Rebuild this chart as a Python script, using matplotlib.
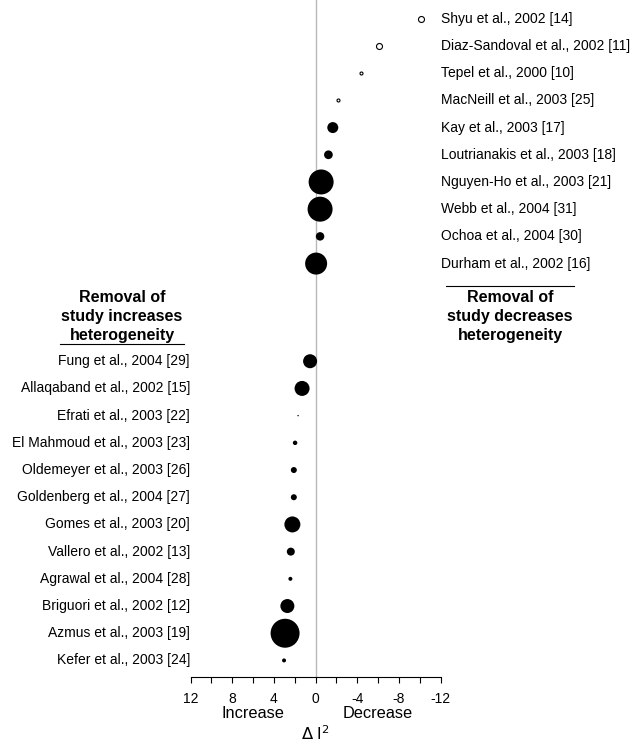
import numpy as np
import matplotlib
matplotlib.use('Agg')
import matplotlib.pyplot as plt

plt.rcParams['font.family'] = ['Liberation Sans', 'DejaVu Sans']

# studies whose removal decreases heterogeneity (labels on the right)
top_names = ['Shyu et al., 2002 [14]', 'Diaz-Sandoval et al., 2002 [11]',
             'Tepel et al., 2000 [10]', 'MacNeill et al., 2003 [25]',
             'Kay et al., 2003 [17]', 'Loutrianakis et al., 2003 [18]',
             'Nguyen-Ho et al., 2003 [21]', 'Webb et al., 2004 [31]',
             'Ochoa et al., 2004 [30]', 'Durham et al., 2002 [16]']
top_delta = [-10.1, -6.1, -4.35, -2.14, -1.66, -1.24, -0.54, -0.44, -0.44, -0.06]
top_weight = [3.6, 3.6, 0.9, 0.9, 12.1, 7.6, 62.5, 62.5, 7.2, 48.4]
top_filled = [False, False, False, False, True, True, True, True, True, True]

# studies whose removal increases heterogeneity (labels on the left)
bot_names = ['Fung et al., 2004 [29]', 'Allaqaband et al., 2002 [15]',
             'Efrati et al., 2003 [22]', 'El Mahmoud et al., 2003 [23]',
             'Oldemeyer et al., 2003 [26]', 'Goldenberg et al., 2004 [27]',
             'Gomes et al., 2003 [20]', 'Vallero et al., 2002 [13]',
             'Agrawal et al., 2004 [28]', 'Briguori et al., 2002 [12]',
             'Azmus et al., 2003 [19]', 'Kefer et al., 2003 [24]']
bot_delta = [0.52, 1.29, 1.67, 1.96, 2.08, 2.08, 2.22, 2.37, 2.41, 2.7, 2.92, 3.02]
bot_weight = [19.6, 22.5, 0.2, 2.0, 3.6, 3.6, 25.6, 6.4, 1.6, 19.6, 84.0, 1.6]

major_ticks = [12, 8, 4, 0, -4, -8, -12]
tick_labels = ['12', '8', '4', '0', '-4', '-8', '-12']

W, H = 642, 742
fig = plt.figure(figsize=(W / 100, H / 100), dpi=100)
ax = fig.add_axes([190.5 / W, 1 - 677.3 / H, 250 / W, 677.3 / H])

gap = 3.59
y_top = np.arange(len(top_names))
y_bot = np.arange(len(bot_names)) + len(top_names) - 1 + gap

scale = 5.18
ax.axvline(0, color='#b8b8b8', lw=1, zorder=1)
for x, y, w, f in zip(top_delta, y_top, top_weight, top_filled):
    if f:
        ax.scatter(x, y, s=w * scale, c='black', edgecolors='none', zorder=3)
    else:
        ax.scatter(x, y, s=w * scale, facecolors='white', edgecolors='black',
                   linewidths=0.8, zorder=3)
ax.scatter(bot_delta, y_bot, s=np.array(bot_weight) * scale, c='black',
           edgecolors='none', zorder=3)

for name, y in zip(top_names, y_top):
    ax.text(-12.05, y, name, ha='left', va='center', fontsize=10, clip_on=False)
for name, y in zip(bot_names, y_bot):
    ax.text(12.05, y, name, ha='right', va='center', fontsize=10, clip_on=False)

ax.set_xlim(12, -12)
ax.set_ylim(24.21, -0.69)
ax.set_xticks(major_ticks)
ax.set_xticklabels(tick_labels, fontsize=10)
ax.set_xticks(np.arange(-10, 12, 4), minor=True)
ax.tick_params(axis='x', which='both', direction='out', length=4, width=0.8,
               pad=6.5)
ax.set_yticks([])
for sp in ['top', 'left', 'right']:
    ax.spines[sp].set_visible(False)
ax.spines['bottom'].set_linewidth(0.8)
ax.patch.set_alpha(0)

fig.text(253 / W, 1 - 713 / H, 'Increase', ha='center', va='center', fontsize=11.8)
fig.text(377.5 / W, 1 - 713 / H, 'Decrease', ha='center', va='center', fontsize=11.8)
fig.text(315 / W, 1 - 734 / H, r'$\Delta$ I$^2$', ha='center', va='center',
         fontsize=11.8)

hdr = dict(ha='center', va='center', fontsize=11.5, fontweight='bold',
           linespacing=1.3)
fig.text(122 / W, 1 - 316.5 / H, 'Removal of\nstudy increases\nheterogeneity', **hdr)
fig.text(510 / W, 1 - 316.5 / H, 'Removal of\nstudy decreases\nheterogeneity', **hdr)
fig.add_artist(plt.Line2D([60 / W, 184 / W], [1 - 344 / H, 1 - 344 / H],
                          color='black', lw=0.8))
fig.add_artist(plt.Line2D([446 / W, 574 / W], [1 - 286 / H, 1 - 286 / H],
                          color='black', lw=0.8))

fig.savefig('out.png', dpi=100)
